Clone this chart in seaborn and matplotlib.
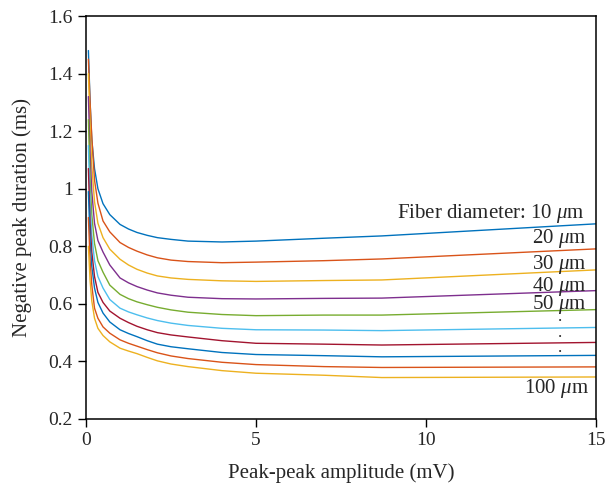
import matplotlib
matplotlib.use("Agg")
import matplotlib.pyplot as plt
import seaborn as sns
import pandas as pd

# Peak-peak amplitude (mV) where the curves are read
amplitude = [0.07, 0.12, 0.17, 0.25, 0.35, 0.5, 0.7, 1.0, 1.25, 1.5, 1.8, 2.1, 2.5, 3.0, 4.0, 5.0, 7.0, 8.7, 15.0]

# Negative peak duration (ms) for each fiber diameter (um)
diameters = [10, 20, 30, 40, 50, 60, 70, 80, 90, 100]
dur_10 = [1.48, 1.30, 1.17, 1.07, 1.00, 0.948, 0.91, 0.876, 0.86, 0.848, 0.838, 0.83, 0.824, 0.818, 0.815, 0.818, 0.828, 0.836, 0.878]
dur_20 = [1.45, 1.30, 1.18, 1.03, 0.95, 0.888, 0.85, 0.813, 0.796, 0.783, 0.77, 0.76, 0.752, 0.747, 0.743, 0.745, 0.750, 0.756, 0.791]
dur_30 = [1.40, 1.22, 1.08, 0.955, 0.88, 0.83, 0.79, 0.755, 0.735, 0.72, 0.707, 0.697, 0.69, 0.685, 0.68, 0.678, 0.681, 0.683, 0.718]
dur_40 = [1.32, 1.12, 0.99, 0.88, 0.82, 0.78, 0.735, 0.69, 0.673, 0.66, 0.648, 0.638, 0.63, 0.623, 0.618, 0.617, 0.619, 0.620, 0.646]
dur_50 = [1.24, 1.03, 0.91, 0.81, 0.75, 0.71, 0.665, 0.633, 0.618, 0.607, 0.597, 0.588, 0.579, 0.571, 0.563, 0.559, 0.561, 0.561, 0.580]
dur_60 = [1.15, 0.95, 0.84, 0.75, 0.695, 0.655, 0.615, 0.585, 0.572, 0.562, 0.551, 0.542, 0.533, 0.525, 0.515, 0.51, 0.509, 0.507, 0.518]
dur_70 = [1.07, 0.88, 0.78, 0.695, 0.64, 0.605, 0.575, 0.55, 0.535, 0.522, 0.51, 0.50, 0.492, 0.485, 0.472, 0.463, 0.460, 0.457, 0.466]
dur_80 = [0.99, 0.82, 0.73, 0.655, 0.605, 0.568, 0.537, 0.51, 0.497, 0.486, 0.472, 0.46, 0.451, 0.444, 0.431, 0.424, 0.420, 0.416, 0.421]
dur_90 = [0.90, 0.75, 0.665, 0.585, 0.55, 0.52, 0.498, 0.475, 0.463, 0.453, 0.441, 0.43, 0.419, 0.41, 0.397, 0.389, 0.382, 0.379, 0.381]
dur_100 = [0.80, 0.68, 0.61, 0.55, 0.515, 0.49, 0.468, 0.446, 0.436, 0.427, 0.414, 0.402, 0.391, 0.382, 0.368, 0.359, 0.352, 0.344, 0.346]
all_durations = [dur_10, dur_20, dur_30, dur_40, dur_50, dur_60, dur_70, dur_80, dur_90, dur_100]

# matlab default colour order, repeating after 7
palette = ["#0072BD", "#D95319", "#EDB120", "#7E2F8E", "#77AC30",
           "#4DBEEE", "#A2142F", "#0072BD", "#D95319", "#EDB120"]

rows = []
for d, durs in zip(diameters, all_durations):
    for a, v in zip(amplitude, durs):
        rows.append({"amplitude": a, "duration": v, "diameter": d})
df = pd.DataFrame(rows)

sns.set_style("ticks")
plt.rcParams["font.family"] = ["Liberation Serif", "DejaVu Serif"]
plt.rcParams["mathtext.fontset"] = "custom"
plt.rcParams["mathtext.rm"] = "Liberation Serif"
plt.rcParams["mathtext.it"] = "Liberation Serif:italic"

fig = plt.figure(figsize=(6.07, 4.88), dpi=100)
ax = fig.add_axes([0.1417, 0.1414, 0.8402, 0.8258])

sns.lineplot(data=df, x="amplitude", y="duration", hue="diameter",
             palette=palette, estimator=None, sort=True, legend=False,
             linewidth=1.0, ax=ax)

ax.set_xlim(0, 15)
ax.set_ylim(0.2, 1.6)
ax.set_xticks([0, 5, 10, 15])
ax.set_yticks([0.2, 0.4, 0.6, 0.8, 1.0, 1.2, 1.4, 1.6])
ax.set_yticklabels(["0.2", "0.4", "0.6", "0.8", "1", "1.2", "1.4", "1.6"])
ax.tick_params(direction="out", length=6, width=1, labelsize=14, color="black",
               top=False, right=False)
for s in ax.spines.values():
    s.set_visible(True)
    s.set_color("black")
    s.set_linewidth(1.1)

ax.set_xlabel("Peak-peak amplitude (mV)", fontsize=15, labelpad=10)
ax.set_ylabel("Negative peak duration (ms)", fontsize=15, labelpad=12)

# curve labels
lab = dict(fontsize=15, ha="right", va="baseline")
ax.text(14.68, 0.898, r"Fiber diameter: 10 $\mu$m", **lab)
ax.text(14.73, 0.81, r"20 $\mu$m", **lab)
ax.text(14.73, 0.72, r"30 $\mu$m", **lab)
ax.text(14.73, 0.643, r"40 $\mu$m", **lab)
ax.text(14.73, 0.582, r"50 $\mu$m", **lab)
ax.text(14.79, 0.292, r"100 $\mu$m", **lab)
# vertical ellipsis between 50 and 100 um
ax.text(13.94, 0.50, ".\n.\n.", fontsize=12, ha="center", va="center",
        linespacing=0.93)

plt.savefig("out.png", dpi=100)
